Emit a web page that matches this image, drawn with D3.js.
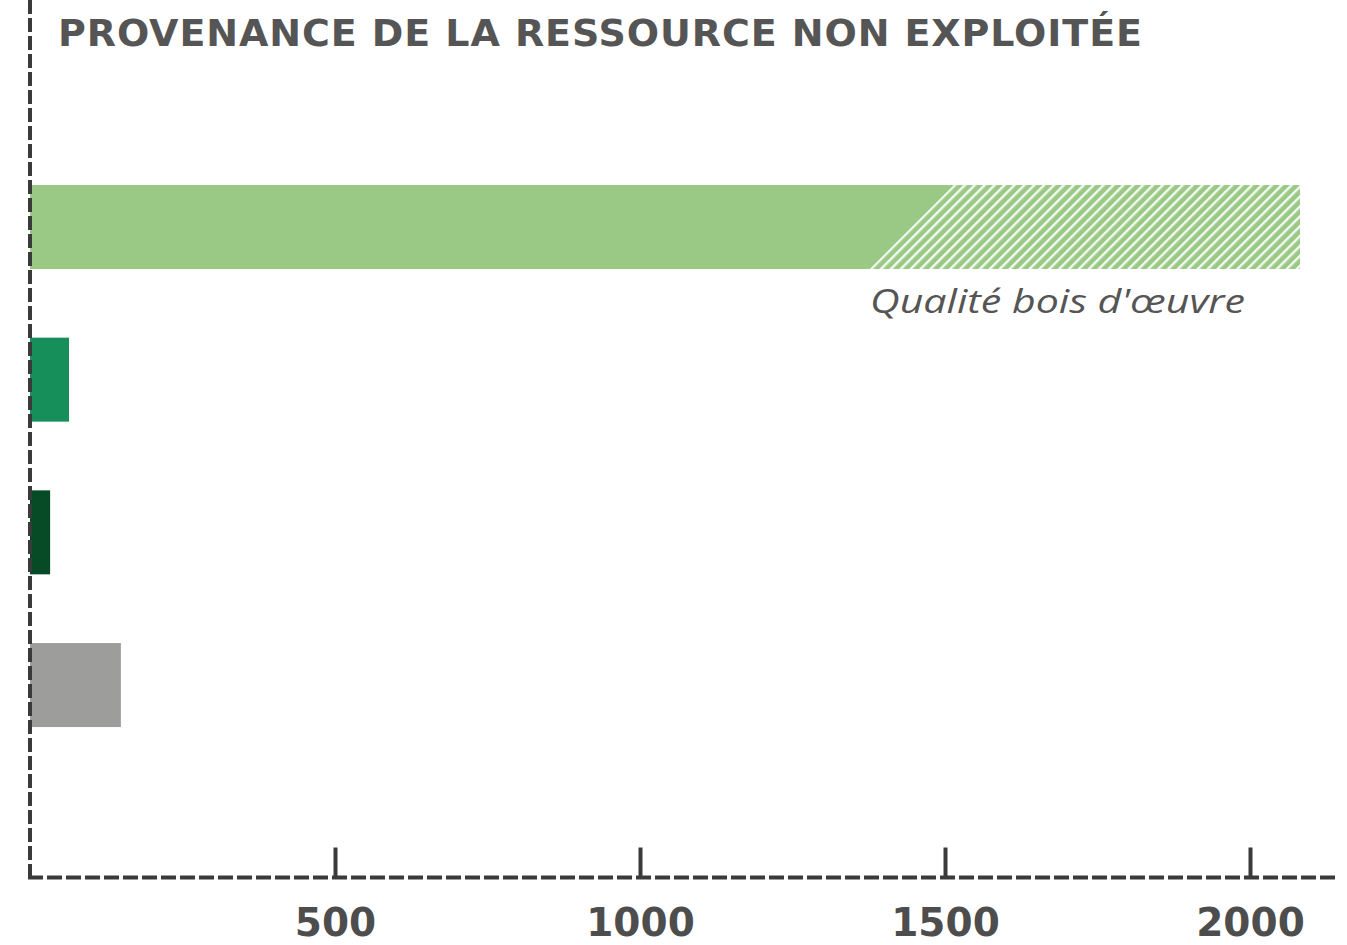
<!DOCTYPE html>
<html>
<head>
<meta charset="utf-8">
<script src="https://cdn.jsdelivr.net/npm/d3@7"></script>
<style>
  html, body { margin: 0; padding: 0; background: #fff; }
  svg { display: block; }
</style>
</head>
<body>
<svg id="svg" width="1347" height="945"></svg>
<script>
// data
var categories = ["A", "B", "C", "D"];
var totals = [2082, 64, 33, 149];
var boisOeuvre = [636, 0, 0, 0];       // hatched part at the end of each bar
var barColors = ["#9ac985", "#178f5a", "#074b26", "#9d9d9c"];
var tickValues = [500, 1000, 1500, 2000];
var title = "PROVENANCE DE LA RESSOURCE NON EXPLOITÉE";
var hatchLabel = "Qualité bois d'œuvre";

var svg = d3.select("#svg");
var axisColor = "#3a3a3a";
var textColor = "#555555";

var x = d3.scaleLinear().domain([0, 2150]).range([30, 30 + 2150 * 0.61]);
var y = d3.scaleBand().domain(categories).range([108.6, 803.4])
  .paddingInner(0.45).paddingOuter(0.5);
var axisY = 877.5;

// hatch pattern
var defs = svg.append("defs");
var pat = defs.append("pattern")
  .attr("id", "hatch")
  .attr("patternUnits", "userSpaceOnUse")
  .attr("width", 7).attr("height", 7)
  .attr("patternTransform", "rotate(45)");
pat.append("rect").attr("width", 7).attr("height", 7).attr("fill", barColors[0]);
pat.append("rect").attr("x", 0).attr("width", 2.4).attr("height", 7).attr("fill", "#f4faf1");

var rows = categories.map(function (c, i) {
  return {cat: c, total: totals[i], hatched: boisOeuvre[i], color: barColors[i]};
});

var bars = svg.append("g").attr("class", "bars");
var bw = y.bandwidth();

rows.forEach(function (d) {
  var y0 = y(d.cat), y1 = y0 + bw;
  if (d.hatched > 0) {
    var xm = x(d.total - d.hatched);
    var xe = x(d.total);
    // solid part with slanted end
    bars.append("path")
      .attr("d", "M" + x(0) + "," + y0 + "L" + (xm + bw / 2) + "," + y0 +
        "L" + (xm - bw / 2) + "," + y1 + "L" + x(0) + "," + y1 + "Z")
      .attr("fill", d.color);
    bars.append("path")
      .attr("d", "M" + (xm + bw / 2) + "," + y0 + "L" + xe + "," + y0 +
        "L" + xe + "," + y1 + "L" + (xm - bw / 2) + "," + y1 + "Z")
      .attr("fill", "url(#hatch)");
    bars.append("text")
      .attr("x", xm - bw / 2)
      .attr("y", y1 + 44)
      .attr("font-family", "'Open Sans', 'DejaVu Sans', sans-serif")
      .attr("font-style", "italic")
      .attr("font-size", 33)
      .attr("fill", textColor)
      .attr("textLength", 375)
      .attr("lengthAdjust", "spacingAndGlyphs")
      .text(hatchLabel);
  } else {
    bars.append("rect")
      .attr("x", x(0))
      .attr("y", y0)
      .attr("width", x(d.total) - x(0))
      .attr("height", bw)
      .attr("fill", d.color);
  }
});

// x axis
var xAxis = d3.axisBottom(x)
  .tickValues(tickValues)
  .tickSizeInner(-30)
  .tickSizeOuter(0)
  .tickFormat(d3.format("d"));

var gx = svg.append("g")
  .attr("transform", "translate(0," + axisY + ")")
  .call(xAxis);

gx.select(".domain").remove();
gx.append("line")
  .attr("x1", x(0) - 2).attr("x2", 1337)
  .attr("y1", 0).attr("y2", 0)
  .attr("stroke", axisColor)
  .attr("stroke-width", 4)
  .attr("stroke-dasharray", "15,4");
gx.selectAll(".tick line")
  .attr("stroke", axisColor)
  .attr("stroke-width", 4);
gx.selectAll(".tick text")
  .attr("y", 58)
  .attr("dy", null)
  .attr("font-family", "'DejaVu Sans', sans-serif")
  .attr("font-weight", "bold")
  .attr("font-size", 39)
  .attr("fill", "#4d4d4d");

// y axis line, on top of the bars
svg.append("line")
  .attr("x1", x(0)).attr("x2", x(0))
  .attr("y1", 0).attr("y2", axisY + 2)
  .attr("stroke", axisColor)
  .attr("stroke-width", 4)
  .attr("stroke-dasharray", "14,4");

// title
svg.append("text")
  .attr("x", 58)
  .attr("y", 46)
  .attr("font-family", "'DejaVu Sans', sans-serif")
  .attr("font-weight", "bold")
  .attr("font-size", 38)
  .attr("fill", textColor)
  .attr("textLength", 1084)
  .attr("lengthAdjust", "spacing")
  .text(title);
</script>
</body>
</html>
